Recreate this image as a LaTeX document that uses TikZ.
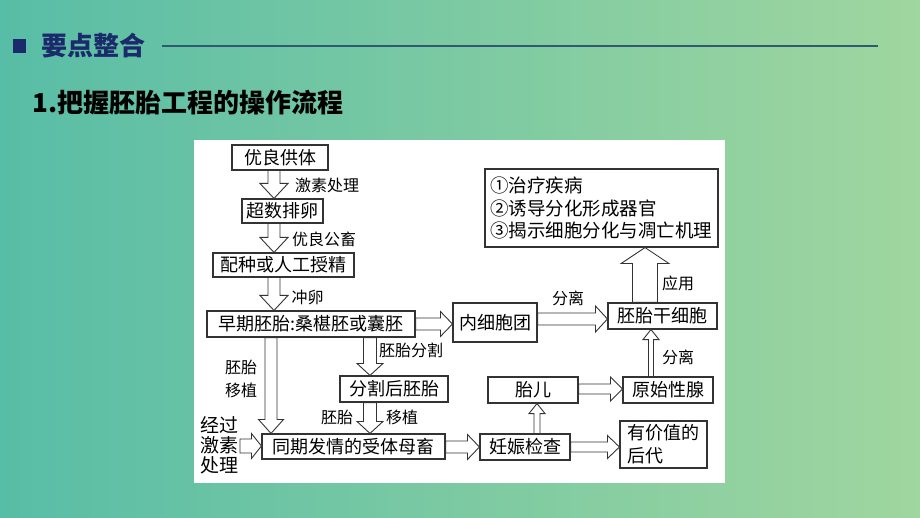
\documentclass[tikz,border=0pt]{standalone}
\usepackage{fontspec}
\setmainfont{Noto Sans CJK SC}
\usetikzlibrary{calc}
\definecolor{bgl}{HTML}{58BDA6}
\definecolor{bgr}{HTML}{A0D69F}
\definecolor{navy}{HTML}{1B2A6B}
\definecolor{hline}{HTML}{2F5A72}
\definecolor{boxline}{HTML}{333333}
\begin{document}
\begin{tikzpicture}[x=1pt,y=-1pt,
  box/.style={draw=boxline, line width=1.1pt, fill=white, inner sep=0pt,
    font=\fontsize{18}{20}\selectfont, text=black},
  lab/.style={inner sep=0pt, font=\fontsize{16}{23}\selectfont, text=black, align=center},
  harrow/.style n args={3}{draw=boxline, line width=0.9pt, fill=white,
    to path={let \p1=(\tikztostart), \p2=(\tikztotarget),
      \n1={atan2(\y2-\y1,\x2-\x1)}, \n2={veclen(\x2-\x1,\y2-\y1)} in
      [shift={(\p1)}, rotate=\n1]
      (0pt,#1pt) -- ({\n2-#3pt},#1pt) -- ({\n2-#3pt},#2pt) -- ({\n2*1pt},0pt)
      -- ({\n2-#3pt},-#2pt) -- ({\n2-#3pt},-#1pt) -- (0pt,-#1pt) -- cycle}}
]
\useasboundingbox (0,0) rectangle (920,518);
\shade[left color=bgl, right color=bgr] (0,0) rectangle (920,518);
% header
\fill[navy] (13,39) rectangle (26,53);
\node[inner sep=0pt, text=navy, font=\fontsize{26}{28}\selectfont\bfseries] (hdr) at (93,46) {要点整合};
\coordinate (hl1) at (162,46);
\coordinate (hl2) at (878,46);
\draw[hline, line width=1.2pt] (hl1) -- (hl2);
\node[inner sep=0pt, anchor=west, text=black, font=\fontsize{26}{28}\selectfont\bfseries] (title) at (32,103) {1.把握胚胎工程的操作流程};
% panel
\fill[white] (194,140) rectangle (725,483);
% boxes
\node[box, minimum width=96pt, minimum height=25pt] (donor) at (280,157.5) {优良供体};
\node[box, minimum width=81pt, minimum height=24pt] (superov) at (282.5,211) {超数排卵};
\node[box, minimum width=141pt, minimum height=24pt] (mating) at (283.5,265) {配种或人工授精};
\node[box, minimum width=208pt, minimum height=26pt] (early) at (311,324) {早期胚胎:桑椹胚或囊胚};
\node[box, minimum width=84pt, minimum height=39pt] (icm) at (495,322.5) {内细胞团};
\node[box, minimum width=109pt, minimum height=26pt] (esc) at (662.5,316) {胚胎干细胞};
\node[box, minimum width=233pt, minimum height=78pt, inner xsep=5pt, text width=223pt, align=left,
  font=\fontsize{18.5}{22.5}\selectfont] (app) at (601.5,208)
  {①治疗疾病\\②诱导分化形成器官\\③揭示细胞分化与凋亡机理};
\node[box, minimum width=90pt, minimum height=26pt] (gonad) at (668,390) {原始性腺};
\node[box, minimum width=90pt, minimum height=26pt] (fetus) at (533,390) {胎儿};
\node[box, minimum width=90pt, minimum height=26pt] (preg) at (525,447) {妊娠检查};
\node[box, minimum width=87pt, minimum height=47pt, inner xsep=7pt, text width=73pt, align=left,
  font=\fontsize{18}{23}\selectfont] (offs) at (663.5,444.5) {有价值的\\后代};
\node[box, minimum width=183pt, minimum height=25pt] (recip) at (353.5,446.5) {同期发情的受体母畜};
\node[box, minimum width=108pt, minimum height=26pt] (split) at (394,389) {分割后胚胎};
% arrow guide coordinates
\coordinate (x274) at (274,0);
\coordinate (x271) at (271,0);
\coordinate (x370) at (370,0);
\coordinate (x645) at (645,0);
\coordinate (x651) at (651,0);
\coordinate (x537) at (537,0);
\coordinate (y324) at (0,324);
\coordinate (y319) at (0,319);
\coordinate (y389) at (0,389);
\coordinate (y447) at (0,447);
\coordinate (lstart) at (240,446);
% arrows
\draw[harrow={6}{14}{15}] (donor.south -| x274) to (superov.north -| x274);
\draw[harrow={6}{14}{15}] (superov.south -| x274) to (mating.north -| x274);
\draw[harrow={6}{14}{15}] (mating.south -| x274) to (early.north -| x274);
\draw[harrow={6}{12.5}{12}] (early.east |- y324) to (icm.west |- y324);
\draw[harrow={6}{13}{12}] (icm.east |- y319) to (esc.west |- y319);
\draw[harrow={12.5}{24}{16}] (esc.north -| x645) to (app.south -| x645);
\draw[harrow={2.5}{8}{10}] (gonad.north -| x651) to (esc.south -| x651);
\draw[harrow={5}{12}{12}] (fetus.east |- y389) to (gonad.west |- y389);
\draw[harrow={3}{8}{10}] (preg.north -| x537) to (fetus.south -| x537);
\draw[harrow={5}{11.5}{12}] (preg.east |- y447) to (offs.west |- y447);
\draw[harrow={6}{12.5}{12}] (recip.east |- y447) to (preg.west |- y447);
\draw[harrow={6.5}{13}{12}] (early.south -| x370) to (split.north -| x370);
\draw[harrow={6.5}{13}{12}] (split.south -| x370) to (recip.north -| x370);
\draw[harrow={6}{12.5}{14}] (early.south -| x271) to (recip.north -| x271);
\draw[harrow={7}{12.5}{10}] (lstart) to (recip.west |- lstart);
% labels
\node[lab] (l1) at (327,185) {激素处理};
\node[lab] (l2) at (324,239) {优良公畜};
\node[lab] (l3) at (307.5,297) {冲卵};
\node[lab] (l4) at (568,298) {分离};
\node[lab] (l5) at (678,283) {应用};
\node[lab] (l6) at (678,357) {分离};
\node[lab] (l7) at (411,350) {胚胎分割};
\node[lab] (l8) at (337,417) {胚胎};
\node[lab] (l9) at (402,417) {移植};
\node[lab] (l10) at (241,378.5) {胚胎\\移植};
\node[lab, font=\fontsize{19}{20}\selectfont] (l11) at (219,445) {经过\\激素\\处理};
\end{tikzpicture}
\end{document}
